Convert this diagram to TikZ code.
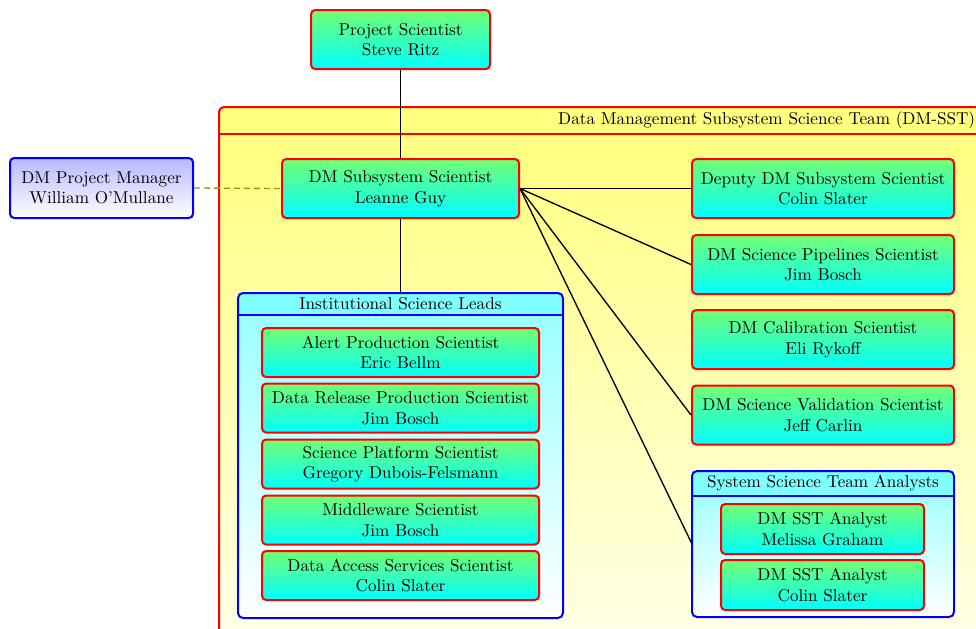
\documentclass[tikz,border=0pt]{standalone}
\usetikzlibrary{calc}
\definecolor{cyanR}{rgb}{0,1,1}
\definecolor{yellowR}{rgb}{1,1,0}
\definecolor{greenR}{rgb}{0,1,0}
\definecolor{blueR}{rgb}{0,0,1}
\definecolor{redR}{rgb}{1,0,0}
\definecolor{oliveR}{rgb}{0.6,0.58,0.1}
\begin{document}
\begin{tikzpicture}[x=0.6pt,y=-0.6pt,
  font=\fontsize{10.3pt}{12.3pt}\selectfont,
  person/.style={draw=redR, line width=1.2pt, rounded corners=2.5pt,
    top color=greenR!55, bottom color=cyanR, align=center, inner sep=0pt},
  rightbox/.style={person, minimum width=157.2pt, minimum height=35.4pt},
  leftbox/.style={person, minimum width=166.2pt, minimum height=29.4pt},
  sstbox/.style={person, minimum width=121.8pt, minimum height=30pt},
  link/.style={draw=black, line width=0.8pt},
  dashlink/.style={draw=oliveR, line width=0.8pt, dash pattern=on 3.5pt off 2.5pt},
  frame/.style={line width=1.2pt, rounded corners=3pt},
  titletext/.style={inner sep=0pt}
]
\useasboundingbox (0,0) rectangle (976,628);
\clip (0,0) rectangle (976,628);

% ---- DM-SST container ----
\path[fill=yellowR!50, rounded corners=3pt] (219,107) rectangle (1330,760);
\path[top color=yellowR!50, bottom color=white] (219,134) rectangle (1330,760);
\draw[redR, line width=1.2pt] (219,134) -- (1330,134);
\draw[redR, frame] (219,107) rectangle (1330,760);
\node[titletext, anchor=east] (dmsstT) at (975.5,120.5) {Data Management Subsystem Science Team (DM-SST)};

% ---- Institutional Science Leads container ----
\path[rounded corners=3pt, top color=cyanR!42, bottom color=white] (238,293) rectangle (563,618);
\begin{scope}
  \clip (238,293) rectangle (563,315);
  \path[fill=cyanR!50, rounded corners=3pt] (238,293) rectangle (563,618);
\end{scope}
\draw[blueR, line width=1.2pt] (238,315) -- (563,315);
\draw[blueR, frame] (238,293) rectangle (563,618);
\node[titletext] (islT) at (400.5,304) {Institutional Science Leads};
\coordinate (islN) at (400.5,293);

% ---- System Science Team Analysts container ----
\path[rounded corners=3pt, top color=cyanR!42, bottom color=white] (692,471) rectangle (954,617);
\begin{scope}
  \clip (692,471) rectangle (954,496);
  \path[fill=cyanR!50, rounded corners=3pt] (692,471) rectangle (954,617);
\end{scope}
\draw[blueR, line width=1.2pt] (692,496) -- (954,496);
\draw[blueR, frame] (692,471) rectangle (954,617);
\node[titletext] (sstaT) at (823,483) {System Science Team Analysts};
\coordinate (sstaW) at (692,544);

% ---- People ----
\node[person, minimum width=107.4pt, minimum height=35.4pt] (ps) at (400.5,39.5) {Project Scientist\\Steve Ritz};
\node[person, draw=blueR, top color=blueR!28, bottom color=white, minimum width=109.8pt, minimum height=36pt] (pm) at (101.5,188) {DM Project Manager\\William O'Mullane};
\node[person, minimum width=142.2pt, minimum height=35.4pt] (dss) at (400.5,188.5) {DM Subsystem Scientist\\Leanne Guy};

\node[rightbox] (dep) at (823,188.5) {Deputy DM Subsystem Scientist\\Colin Slater};
\node[rightbox] (pip) at (823,264.5) {DM Science Pipelines Scientist\\Jim Bosch};
\node[rightbox] (cal) at (823,339.5) {DM Calibration Scientist\\Eli Rykoff};
\node[rightbox] (val) at (823,415) {DM Science Validation Scientist\\Jeff Carlin};

\node[leftbox] (ap) at (400.5,352.5) {Alert Production Scientist\\Eric Bellm};
\node[leftbox] (drp) at (400.5,408) {Data Release Production Scientist\\Jim Bosch};
\node[leftbox] (sp) at (400.5,464) {Science Platform Scientist\\Gregory Dubois-Felsmann};
\node[leftbox] (mw) at (400.5,520) {Middleware Scientist\\Jim Bosch};
\node[leftbox] (das) at (400.5,575.5) {Data Access Services Scientist\\Colin Slater};

\node[sstbox] (an1) at (822.5,529) {DM SST Analyst\\Melissa Graham};
\node[sstbox] (an2) at (822.5,585) {DM SST Analyst\\Colin Slater};

% ---- Connectors ----
\draw[link] (ps.south) -- (dss.north);
\draw[link] (dss.south) -- (islN);
\draw[dashlink] (pm.east) -- (dss.west);
\draw[link] (dss.east) -- (dep.west);
\draw[link] (dss.east) -- (pip.west);
\draw[link] (dss.east) -- (val.west);
\draw[link] (dss.east) -- (sstaW);
\end{tikzpicture}
\end{document}
